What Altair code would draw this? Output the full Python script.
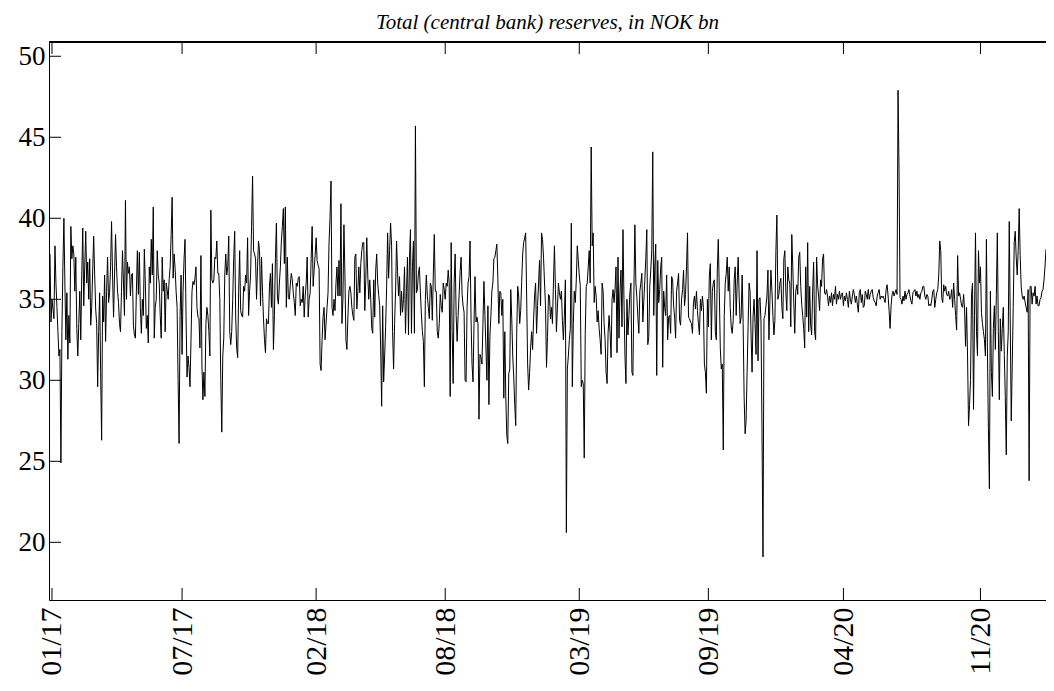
import altair as alt
import pandas as pd

# Daily total reserves (NOK bn) in chronological segments
seg01 = [37.8,33.6,35.0,34.4,33.8,38.3,36.0,34.5,33.0,31.5,31.9,24.9,33.0,37.0,40.0,36.0,32.5,35.4,31.3,34.0,
         32.3,39.5,37.5,38.3,37.8,35.5,37.6,33.2,31.5,33.5,35.5,32.5,36.5,39.4,34.6,37.0,39.2,36.0,37.3,35.0,
         37.5,33.4,34.5,36.8,38.9,36.5,34.4,33.5,29.6,33.0,35.4,30.5,26.3,35.2,33.6,36.5,32.4,35.5,37.6,34.8,
         35.4,37.0,39.8,36.5,33.9,36.5,39.0,37.0,35.5,34.8,33.5,33.0,35.5,38.0,36.0,34.0,41.1,35.0,37.3,36.6,
         37.0,35.2,36.5]
seg02 = [36.6,33.4,32.8,32.6,35.5,38.0,35.3,37.9,34.5,32.9,35.0,34.0,38.1,36.0,33.2,34.0,32.3,37.0,36.0,38.7,
         36.5,40.7,32.6,34.5,35.0,38.0,36.5,36.0,34.0,32.6,37.6,35.5,36.2,33.0,36.0,35.6,35.0,36.2,37.0,39.0,
         41.3,36.3,37.8,36.9,35.5,34.5,30.0,26.1,34.0,36.5,31.6,35.5,37.5,38.7,34.0,30.2,31.5,30.8,29.6,32.5,
         35.5,36.1,35.9,36.3,37.0,34.5,33.9,33.8,32.0,37.7,31.0,28.8,30.5,29.0,33.5,34.5,34.0,33.0,31.5,40.5,
         36.2,36.0,36.2,37.6]
seg03 = [37.5,38.6,36.6,36.6,35.0,30.0,26.8,31.5,32.6,36.5,37.8,36.5,37.0,38.9,33.0,32.2,33.0,35.0,37.5,39.2,
         33.9,32.0,31.4,35.5,38.0,34.3,34.0,33.9,35.8,35.5,36.5,36.0,38.8,34.0,35.5,36.5,39.5,42.6,38.0,37.8,
         37.5,35.0,37.0,38.6,38.0,34.6,37.6,35.5,33.8,32.5,31.7,33.8,33.5,33.5,35.8,36.6,34.5,37.2,31.9,34.0,
         37.5,39.7,35.2,34.7,36.0,37.0,38.6,39.5,40.6,37.2,40.7,34.5,37.6,35.1,35.0,35.9,36.6,36.2,35.4,34.8,
         34.0,36.0,35.8,36.3]
seg04 = [36.4,34.6,35.0,34.8,35.8,33.9,35.2,36.0,37.6,33.9,35.0,35.4,37.5,39.5,35.8,36.8,37.7,38.8,37.4,37.1,
         36.9,31.0,30.6,32.5,33.9,34.5,32.5,33.5,34.5,35.4,38.5,40.0,42.3,34.5,34.0,35.0,34.3,36.0,37.0,35.2,
         37.4,35.2,40.9,33.5,35.0,39.6,36.5,32.5,31.9,33.9,35.5,35.8,35.4,34.5,34.0,33.7,37.6,37.8,34.4,35.5,
         37.0,35.4,37.2,38.0,38.5,38.5,34.3,36.2,38.8,36.5,35.0,36.2,35.0,33.2,32.9,36.2,33.9,36.8,37.8,36.0,
         35.3,34.6,32.0,28.4]
seg05 = [34.6,29.9,31.5,33.3,35.8,39.1,36.3,38.0,39.7,38.3,33.0,30.7,33.5,35.5,38.6,36.7,35.2,36.4,34.0,35.5,
         34.2,35.0,37.0,32.9,35.5,37.6,32.8,37.5,39.3,32.9,37.0,38.6,32.9,45.7,35.4,35.6,36.6,37.0,35.4,34.1,
         33.0,32.4,29.6,35.0,36.5,35.2,34.5,33.8,36.0,35.8,33.7,36.5,39.0,35.5,35.5,33.0,32.6,33.5,35.3,34.6,
         34.2,36.0,35.6,35.0,36.0,35.8,36.8,36.0,29.0,38.5,33.0,29.8,36.0,37.8,34.0,32.4,34.0,35.3,36.7,37.6,
         35.3,34.6,34.2,30.0]
seg06 = [29.9,34.5,36.0,36.4,38.6,33.8,31.0,29.9,33.5,36.4,33.6,33.9,33.5,27.6,31.6,31.4,31.0,33.5,36.1,34.0,
         32.0,30.0,34.6,28.5,32.7,34.0,35.5,36.0,37.5,37.6,38.0,38.4,36.3,33.5,35.5,35.4,34.0,35.0,28.9,33.0,
         29.0,26.6,26.1,30.4,30.7,35.6,33.8,31.5,30.2,28.5,27.2,32.9,35.8,35.2,33.5,34.3,36.1,37.8,38.5,38.8,
         39.1,35.2,31.0,29.4,30.5,32.0,33.0,31.9,33.8,35.2,36.0,32.9,34.6,36.0,37.4,34.6,39.1,38.7,37.6,36.0,
         34.6,30.8,32.7,35.3]
seg07 = [35.2,33.8,34.5,33.5,36.0,38.3,35.6,33.0,34.5,36.0,35.4,35.0,35.5,33.7,32.5,34.0,36.2,20.6,30.7,31.5,
         32.5,33.2,39.7,29.6,33.5,35.5,34.8,36.2,38.3,37.4,36.5,35.8,29.6,30.0,29.8,25.2,32.9,35.8,36.0,37.0,
         38.0,36.0,44.4,38.3,39.1,34.8,35.8,35.2,33.6,34.3,33.2,32.5,31.6,36.0,35.5,33.5,32.5,30.5,29.8,32.9,
         34.0,33.0,31.4,35.0,35.6,34.8,35.6,37.0,31.7,37.6,32.6,35.5,36.8,33.3,39.3,35.0,31.5,29.8,35.0,32.8,
         34.0,35.4,36.0,30.5]
seg08 = [30.3,35.5,39.6,36.0,35.1,33.9,32.9,35.5,36.0,36.6,33.6,34.9,36.2,37.5,39.3,32.2,32.7,35.8,36.8,38.0,
         44.1,34.0,37.0,38.4,30.3,37.4,34.8,35.6,37.0,37.6,30.8,35.5,34.5,34.0,36.5,32.5,33.9,34.0,32.9,36.4,
         36.2,34.6,33.9,32.6,35.5,36.0,36.6,33.7,33.4,35.0,35.6,36.8,34.6,35.3,37.0,39.1,33.9,33.8,33.6,33.5,
         32.9,34.8,35.2,34.4,35.5,34.3,33.5,32.8,35.0,34.3,35.2,34.5,31.0,30.5,29.2,35.0,33.3,36.5,37.2,32.5,
         35.5,36.0,36.2,33.0]
seg09 = [32.5,36.8,38.7,35.5,32.0,30.7,31.0,25.7,34.0,36.0,36.6,37.6,35.5,37.0,34.5,33.3,32.9,33.7,36.2,37.0,
         34.0,36.0,37.6,35.2,33.5,33.9,36.5,33.5,29.0,26.7,27.5,30.5,33.3,36.0,35.5,32.8,30.5,33.9,35.0,33.5,
         31.6,38.0,31.2,35.0,35.1,33.6,27.0,19.1,33.8,34.0,34.6,35.2,36.8,32.5,35.0,36.8,35.5,34.0,32.8,33.7,
         38.0,40.2,35.0,35.3,36.0,36.3,34.5,33.8,37.5,38.0,35.5,34.3,37.0,36.2,36.0,33.3,39.0,37.0,34.8,32.9,
         35.5,35.9,35.3,37.6]
seg10 = [37.9,35.8,34.7,34.0,33.2,32.0,37.0,33.9,38.5,33.0,35.8,33.4,32.8,35.5,37.3,33.0,32.5,37.6,35.9,35.2,
         34.3,36.2,35.8,37.5,37.8,35.4,35.3,35.6,
         35.2,34.6,35.2,34.8,35.4,34.6,35.3,35.0,35.8,34.7,35.3,35.0,35.5,35.0,35.3,35.4,34.6,35.2,34.9,35.4,
         35.0,34.5,35.5,35.0,34.7,35.2,35.6,35.3,34.8,35.2,34.7,34.2,35.4,35.6,34.8,35.3,34.5,34.6,35.5,35.3,
         35.0,35.6,35.0,35.3,35.5,35.6,35.1,34.9,34.8,34.6,35.2,35.4,35.6,35.0,35.2,35.1]
seg11 = [35.2,35.0,34.8,35.6,35.9,35.2,34.3,33.2,34.6,35.3,35.5,35.2,35.4,35.6,35.3,47.9,42.9,35.1,35.0,34.7,
         35.2,34.9,35.5,35.0,35.3,35.4,35.6,35.2,34.9,34.7,35.4,35.5,35.6,35.2,35.5,35.1,35.3,35.0,35.4,35.5,
         35.8,35.8,35.2,35.0,35.3,35.2,34.6,34.7,34.6,35.0,35.5,35.6,34.5,35.0,35.4,35.6,36.5,38.6,38.0,35.1,
         34.8,35.9,35.5,35.8,35.3,35.2,35.5,35.0,35.1,35.6,34.5,36.0,35.0,34.0,33.1,37.7,35.2,35.4,35.0,34.6,
         34.5,35.3,34.4,32.1]
seg12 = [34.5,31.5,27.2,28.5,30.0,35.3,36.0,28.2,34.0,39.1,33.0,31.5,38.0,36.0,37.0,34.2,33.5,33.0,32.5,31.5,
         38.7,32.0,27.0,23.3,35.5,30.5,29.0,33.2,34.6,31.9,35.3,39.1,33.0,28.8,33.8,31.8,33.2,34.5,31.6,29.0,
         25.4,31.5,33.0,39.8,33.6,27.5,31.0,34.5,38.5,39.2,37.6,36.5,38.0,40.6,37.7,35.8,35.2,35.0,35.2,34.8,
         34.5,34.2,35.6,23.8,35.8,35.8,34.7,35.4,35.2,35.8,34.7,35.2,34.6,34.6,35.0,35.1,35.5,35.6,36.2,37.0,
         38.1]

segments = [seg01, seg02, seg03, seg04, seg05, seg06, seg07, seg08, seg09, seg10, seg11, seg12]
reserves = [v for s in segments for v in s]

tick_labels = ["01/17", "07/17", "02/18", "08/18", "03/19", "09/19", "04/20", "11/20"]
tick_index = [2, 133, 268, 398, 533, 663, 799, 937]
y_ticks = [20, 25, 30, 35, 40, 45, 50]
y_range = [16.44, 50.88]

FONT = "Liberation Serif"
W, H = 997, 558
TL = 12  # inward tick length

df = pd.DataFrame({"obs": list(range(len(reserves))), "reserves": reserves})
xt = pd.DataFrame({"obs": tick_index})
yt = pd.DataFrame({"reserves": y_ticks})

label_expr = "''"
for i, lab in reversed(list(zip(tick_index, tick_labels))):
    label_expr = f"datum.value == {i} ? '{lab}' : ({label_expr})"

x_scale = alt.Scale(domain=[-1, len(reserves) - 1], nice=False, zero=False)
y_scale = alt.Scale(domain=y_range, nice=False, zero=False)

x_axis = alt.Axis(values=tick_index, labelExpr=label_expr, title=None, grid=False, ticks=False,
                  domain=True, domainColor="black", domainWidth=1,
                  labelAngle=-90, labelFont=FONT, labelFontSize=30, labelColor="black",
                  labelPadding=7)
y_axis = alt.Axis(values=y_ticks, title=None, grid=False, ticks=False,
                  domain=True, domainColor="black", domainWidth=1,
                  labelFont=FONT, labelFontSize=27, labelColor="black", labelPadding=4)

line = alt.Chart(df).mark_line(color="black", strokeWidth=1, clip=True).encode(
    x=alt.X("obs:Q", scale=x_scale, axis=x_axis),
    y=alt.Y("reserves:Q", scale=y_scale, axis=y_axis),
)

tick_style = dict(color="black", strokeWidth=1)
left_ticks = alt.Chart(yt).mark_rule(**tick_style).encode(
    y=alt.Y("reserves:Q", scale=y_scale, axis=y_axis), x=alt.value(0), x2=alt.value(TL))
bottom_ticks = alt.Chart(xt).mark_rule(**tick_style).encode(
    x=alt.X("obs:Q", scale=x_scale, axis=x_axis), y=alt.value(H - TL), y2=alt.value(H))
top_ticks = alt.Chart(xt).mark_rule(**tick_style).encode(
    x=alt.X("obs:Q", scale=x_scale, axis=x_axis), y=alt.value(0), y2=alt.value(TL))
top_edge = alt.Chart(xt).mark_rule(**tick_style).encode(
    y=alt.value(0), x=alt.value(0), x2=alt.value(W))

chart = alt.layer(line, left_ticks, bottom_ticks, top_ticks, top_edge).properties(
    width=W, height=H,
    padding={"left": 41, "top": 34, "right": 0, "bottom": 90},
    autosize=alt.AutoSizeParams(type="none"),
    title=alt.TitleParams("Total (central bank) reserves, in NOK bn", font=FONT, fontSize=21,
                          fontStyle="italic", fontWeight="normal", color="black",
                          anchor="middle", offset=9),
).configure_view(stroke=None).configure(background="white")

chart.save("out.html", embed_options={"renderer": "svg", "actions": False})
